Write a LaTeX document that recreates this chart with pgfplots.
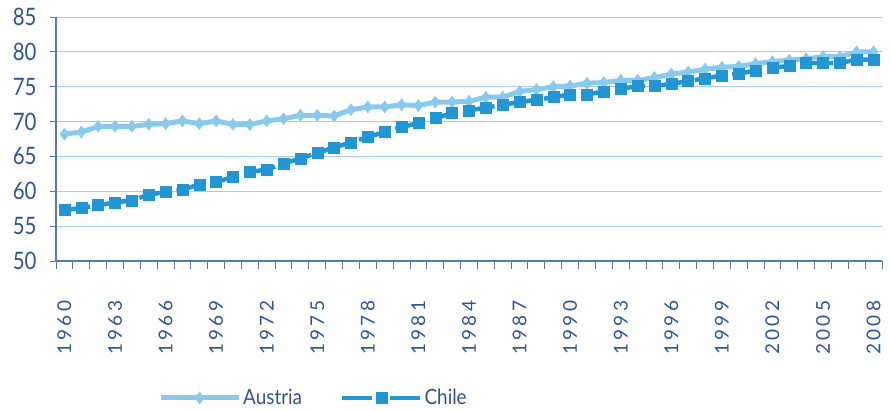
\documentclass[border=0pt]{standalone}
\usepackage{fontspec}
\setmainfont{Lato}
\newfontfamily\yfont{Lato}[FakeStretch=0.85]
\newfontfamily\xfont{Lato}[LetterSpace=18]
\newfontfamily\lfont{Lato}[FakeStretch=0.9]
\usepackage{pgfplots}
\pgfplotsset{compat=1.18}
\definecolor{aus}{RGB}{137,202,236}
\definecolor{chi}{RGB}{33,150,211}
\definecolor{txt}{RGB}{46,84,150}
\definecolor{axc}{RGB}{88,120,176}
\definecolor{grd}{RGB}{160,208,234}
\pgfplotsset{
  legaus/.style={legend image code/.code={\draw[##1, mark repeat=2, mark phase=2] plot coordinates {(0pt,0pt) (39pt,0pt) (78pt,0pt)};}},
  legchi/.style={legend image code/.code={\draw[##1, dash pattern=on 30pt off 18pt, mark repeat=2, mark phase=2] plot coordinates {(0pt,0pt) (39pt,0pt) (78pt,0pt)};}},
}
\begin{document}
\begin{tikzpicture}[x=1pt,y=1pt]
\useasboundingbox (0,0) rectangle (891,410);
\begin{axis}[
  at={(56pt,149pt)}, anchor=south west,
  scale only axis, width=826pt, height=244pt,
  xmin=1959.5, xmax=2008.5, ymin=50, ymax=85,
  axis x line*=bottom, axis y line*=left,
  axis line style={axc, line width=1.2pt, -},
  tick align=outside,
  major tick length=6pt,
  minor tick length=8pt,
  tick style={axc, line width=1pt},
  ytick={50,55,...,85},
  ymajorgrids, major grid style={grd, line width=1pt},
  yticklabel style={font=\yfont\fontsize{24}{24}\selectfont, text=txt, xshift=-10pt},
  xtick={1960,1963,...,2008},
  minor xtick={1959.5,1960.5,...,2008.5},
  major x tick style={draw=none},
  minor x tick style={axc, line width=1pt},
  xticklabel style={rotate=90, anchor=east, font=\xfont\fontsize{19}{19}\selectfont, text=txt, xshift=-30pt},
  /pgf/number format/set thousands separator={},
  /pgf/number format/assume math mode=true,
  legend style={at={(0.1235,-0.561)}, anchor=west, draw=none, fill=none,
     font=\lfont\fontsize{21}{21}\selectfont, text=txt, inner sep=0pt,
     /tikz/every even column/.append style={column sep=36pt}},
  legend columns=2,
]
\addplot[aus, line width=5pt, mark=diamond*, mark size=6pt, mark options={solid, fill=aus, draw=aus, line width=0.5pt}, legaus]
coordinates {
(1960,68.2)(1961,68.5)(1962,69.3)(1963,69.3)(1964,69.3)(1965,69.6)(1966,69.7)(1967,70.1)(1968,69.7)(1969,70.1)
(1970,69.6)(1971,69.6)(1972,70.1)(1973,70.4)(1974,70.9)(1975,70.9)(1976,70.8)(1977,71.7)(1978,72.1)(1979,72.1)
(1980,72.4)(1981,72.3)(1982,72.8)(1983,72.8)(1984,72.9)(1985,73.5)(1986,73.5)(1987,74.3)(1988,74.6)(1989,75.0)
(1990,75.1)(1991,75.5)(1992,75.6)(1993,75.9)(1994,75.9)(1995,76.3)(1996,76.8)(1997,77.1)(1998,77.5)(1999,77.8)
(2000,77.9)(2001,78.3)(2002,78.6)(2003,78.8)(2004,79.0)(2005,79.3)(2006,79.3)(2007,80.0)(2008,80.0)
};
\addlegendentry{Austria}
\addplot[chi, line width=4.5pt, dash pattern=on 26pt off 12pt, mark=square*, mark size=5.5pt, mark options={solid, fill=chi, draw=chi, line width=0.5pt}, legchi]
coordinates {
(1960,57.3)(1961,57.6)(1962,58.0)(1963,58.4)(1964,58.7)(1965,59.5)(1966,59.9)(1967,60.2)(1968,61.0)(1969,61.3)
(1970,62.1)(1971,62.8)(1972,63.1)(1973,64.0)(1974,64.7)(1975,65.5)(1976,66.3)(1977,67.0)(1978,67.8)(1979,68.5)
(1980,69.2)(1981,69.8)(1982,70.5)(1983,71.2)(1984,71.6)(1985,72.0)(1986,72.4)(1987,72.8)(1988,73.1)(1989,73.5)
(1990,73.9)(1991,73.9)(1992,74.3)(1993,74.7)(1994,75.1)(1995,75.1)(1996,75.4)(1997,75.8)(1998,76.2)(1999,76.6)
(2000,76.9)(2001,77.3)(2002,77.7)(2003,78.0)(2004,78.4)(2005,78.4)(2006,78.4)(2007,78.9)(2008,78.9)
};
\addlegendentry{Chile}
\end{axis}
\end{tikzpicture}
\end{document}
